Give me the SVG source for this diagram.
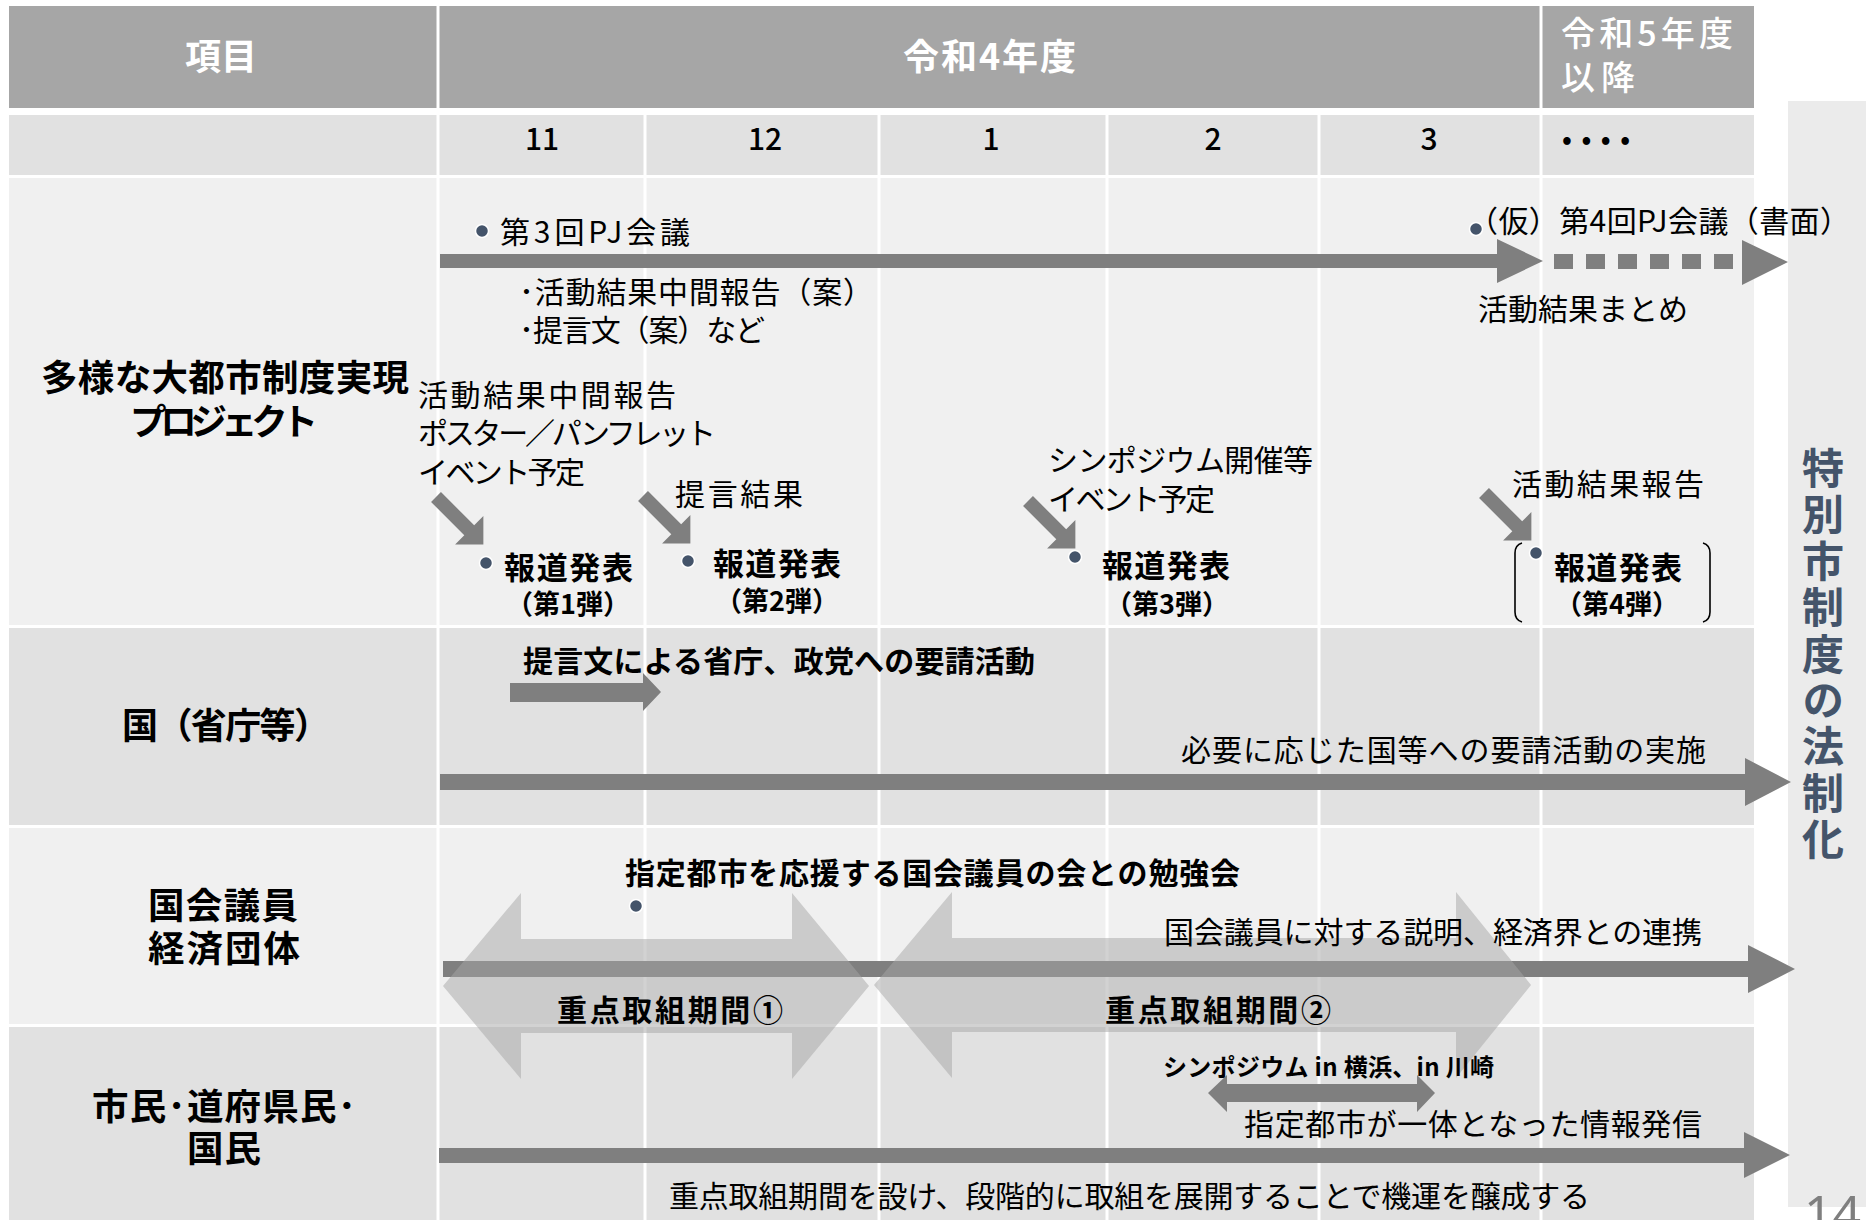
<svg xmlns="http://www.w3.org/2000/svg" width="1866" height="1220" viewBox="0 0 1866 1220" font-size="30">
<style>
.t{font-family:'Noto Sans CJK JP','Noto Sans CJK SC',sans-serif;fill:#000}
.b{font-weight:700}
.hd{fill:#fff;font-weight:700}
.arr{fill:#7f7f7f}
.big{fill:#a6a6a6;fill-opacity:0.5}
.dot{fill:#44546a;stroke:#fff;stroke-width:1.5}
.grid{stroke:#fff;stroke-width:3}
.light{fill:#f0f0f0}
.mid{fill:#e1e1e1}
.brk{fill:none;stroke:#000;stroke-width:1.6}
.vert{writing-mode:vertical-rl;text-orientation:upright;letter-spacing:4.4px}
</style>
<defs>
<path id="diag" d="M0,-7 H47 V-20 L67,0 L47,20 V7 H0 Z"/>
</defs>
<rect width="1866" height="1220" fill="#fff"/>
<g id="table">
<rect x="9" y="6" width="427.5" height="102" fill="#a6a6a6"/>
<rect x="439.5" y="6" width="1100" height="102" fill="#a6a6a6"/>
<rect x="1542.5" y="6" width="211.5" height="102" fill="#a6a6a6"/>
<rect x="9" y="115" width="1745" height="60" class="mid"/>
<rect x="9" y="178" width="1745" height="447" class="light"/>
<rect x="9" y="628" width="1745" height="197" class="mid"/>
<rect x="9" y="828" width="1745" height="196" class="light"/>
<rect x="9" y="1027" width="1745" height="193" class="mid"/>
<g class="grid">
<line x1="438" y1="112" x2="438" y2="1220"/>
<line x1="645" y1="112" x2="645" y2="1220"/>
<line x1="879" y1="112" x2="879" y2="1220"/>
<line x1="1107" y1="112" x2="1107" y2="1220"/>
<line x1="1319" y1="112" x2="1319" y2="1220"/>
<line x1="1541" y1="112" x2="1541" y2="1220"/>
</g>
<text class="t hd" x="221" y="70" font-size="36" text-anchor="middle">項目</text>
<text class="t hd" x="903" y="70" font-size="36" textLength="173" lengthAdjust="spacing">令和4年度</text>
<text class="t" x="1561" y="46" font-size="34" style="fill:#fff;font-weight:500" textLength="172" lengthAdjust="spacing">令和5年度</text>
<text class="t" x="1561" y="90" font-size="34" style="fill:#fff;font-weight:500" textLength="74" lengthAdjust="spacing">以降</text>
<g font-size="30" style="font-weight:500">
<text class="t" x="542" y="150" text-anchor="middle">11</text>
<text class="t" x="765" y="150" text-anchor="middle">12</text>
<text class="t" x="991" y="150" text-anchor="middle">1</text>
<text class="t" x="1213" y="150" text-anchor="middle">2</text>
<text class="t" x="1429" y="150" text-anchor="middle">3</text>
</g>
<text class="t b" x="1562" y="149" font-size="26" textLength="68" lengthAdjust="spacing">••••</text>
</g>
<g id="goal">
<rect x="1788" y="101" width="78" height="1106" fill="#ebebeb"/>
<text class="t b vert" x="1823" y="447" font-size="42" style="fill:#44546a">特別市制度の法制化</text>
<text x="1804" y="1231" font-family="'Noto Sans',sans-serif" font-size="50" fill="#7f7f7f">14</text>
</g>
<g id="row-labels">
<text class="t b" x="41" y="391" font-size="36.5" textLength="368" lengthAdjust="spacing">多様な大都市制度実現</text>
<text class="t b" x="130" y="435" font-size="36.5" textLength="188" lengthAdjust="spacing">プロジェクト</text>
<text class="t b" x="122" y="739" font-size="36" textLength="208" lengthAdjust="spacing">国（省庁等）</text>
<text class="t b" x="148" y="919" font-size="36.5" textLength="150" lengthAdjust="spacing">国会議員</text>
<text class="t b" x="148" y="962" font-size="36.5" textLength="152" lengthAdjust="spacing">経済団体</text>
<text class="t b" x="92" y="1120" font-size="36.5" textLength="264" lengthAdjust="spacing">市民･道府県民･</text>
<text class="t b" x="187" y="1162" font-size="36.5" textLength="74" lengthAdjust="spacing">国民</text>
</g>
<g id="connectors">
<path class="arr" d="M440,254 H1497 V239 L1543,261 L1497,283 V268 H440 Z"/>
<g class="arr">
<rect x="1554" y="254" width="19" height="15"/>
<rect x="1586" y="254" width="19" height="15"/>
<rect x="1618" y="254" width="19" height="15"/>
<rect x="1650" y="254" width="19" height="15"/>
<rect x="1682" y="254" width="19" height="15"/>
<rect x="1714" y="254" width="19" height="15"/>
</g>
<path class="arr" d="M1742,240 L1788,262 L1742,285 Z"/>
<use href="#diag" class="arr" transform="translate(436,497) rotate(45)"/>
<use href="#diag" class="arr" transform="translate(643,496) rotate(45)"/>
<use href="#diag" class="arr" transform="translate(1028,501) rotate(45)"/>
<use href="#diag" class="arr" transform="translate(1484,493) rotate(45)"/>
<path class="arr" d="M510,683 H643 V673 L661,692 L643,711 V702 H510 Z"/>
<path class="arr" d="M440,774 H1745 V758 L1791,782 L1745,806 V790 H440 Z"/>
<path class="arr" d="M443,961 H1748 V945 L1795,969 L1748,993 V977 H443 Z"/>
<path class="arr" d="M439,1148 H1744 V1132 L1790,1155 L1744,1178 V1163 H439 Z"/>
<path class="arr" d="M1208,1093 L1227,1075 V1084 H1417 V1075 L1435,1093 L1417,1112 V1102 H1227 V1112 Z"/>
<path class="big" d="M443,986 L521,893 V939 H792 V893 L869,986 L792,1079 V1033 H521 V1079 Z"/>
<path class="big" d="M874,985 L952,892 V938 H1456 V892 L1531,985 L1456,1078 V1032 H952 V1078 Z"/>
</g>
<g id="project-meetings">
<circle class="dot" cx="482" cy="231" r="6.5"/>
<text class="t" x="500" y="243" textLength="190" lengthAdjust="spacing">第3回PJ会議</text>
<text class="t" x="519" y="303" textLength="354" lengthAdjust="spacing">･活動結果中間報告（案）</text>
<text class="t" x="519" y="341" textLength="246" lengthAdjust="spacing">･提言文（案）など</text>
<circle class="dot" cx="1476" cy="229" r="6.5"/>
<text class="t" x="1468" y="232" textLength="382" lengthAdjust="spacing">（仮）第4回PJ会議（書面）</text>
<text class="t" x="1478" y="320" textLength="210" lengthAdjust="spacing">活動結果まとめ</text>
</g>
<g id="press-1">
<text class="t" x="418" y="406" textLength="258" lengthAdjust="spacing">活動結果中間報告</text>
<text class="t" x="418" y="444" textLength="298" lengthAdjust="spacing">ポスター／パンフレット</text>
<text class="t" x="418" y="483" textLength="167" lengthAdjust="spacing">イベント予定</text>
<circle class="dot" cx="486" cy="563" r="6.5"/>
<text class="t b" x="504" y="579" font-size="31" textLength="129" lengthAdjust="spacing">報道発表</text>
<text class="t b" x="568" y="614" font-size="27" text-anchor="middle">（第1弾）</text>
</g>
<g id="press-2">
<text class="t" x="675" y="505" textLength="128" lengthAdjust="spacing">提言結果</text>
<circle class="dot" cx="688" cy="561" r="6.5"/>
<text class="t b" x="713" y="575" font-size="31" textLength="128" lengthAdjust="spacing">報道発表</text>
<text class="t b" x="777" y="611" font-size="27" text-anchor="middle">（第2弾）</text>
</g>
<g id="press-3">
<text class="t" x="1048" y="471" textLength="265" lengthAdjust="spacing">シンポジウム開催等</text>
<text class="t" x="1048" y="510" textLength="167" lengthAdjust="spacing">イベント予定</text>
<circle class="dot" cx="1075" cy="557" r="6.5"/>
<text class="t b" x="1102" y="577" font-size="31" textLength="128" lengthAdjust="spacing">報道発表</text>
<text class="t b" x="1167" y="614" font-size="27" text-anchor="middle">（第3弾）</text>
</g>
<g id="press-4">
<text class="t" x="1512" y="495" textLength="192" lengthAdjust="spacing">活動結果報告</text>
<path class="brk" d="M1522,543 Q1515,545 1515,553 V612 Q1515,620 1522,622"/>
<path class="brk" d="M1703,543 Q1710,545 1710,553 V612 Q1710,620 1703,622"/>
<circle class="dot" cx="1536" cy="553" r="6.5"/>
<text class="t b" x="1554" y="579" font-size="31" textLength="128" lengthAdjust="spacing">報道発表</text>
<text class="t b" x="1617" y="614" font-size="27" text-anchor="middle">（第4弾）</text>
</g>
<g id="national">
<text class="t b" x="523" y="672" textLength="512" lengthAdjust="spacing">提言文による省庁、政党への要請活動</text>
<text class="t" x="1181" y="761" textLength="525" lengthAdjust="spacing">必要に応じた国等への要請活動の実施</text>
</g>
<g id="diet">
<text class="t b" x="625" y="884" textLength="615" lengthAdjust="spacing">指定都市を応援する国会議員の会との勉強会</text>
<circle class="dot" cx="636" cy="906" r="6.5"/>
<text class="t" x="1164" y="943" textLength="538" lengthAdjust="spacing">国会議員に対する説明、経済界との連携</text>
<text class="t b" x="557" y="1021" textLength="226" lengthAdjust="spacing">重点取組期間①</text>
<text class="t b" x="1105" y="1021" textLength="226" lengthAdjust="spacing">重点取組期間②</text>
</g>
<g id="citizens">
<text class="t b" x="1163" y="1076" font-size="24" textLength="331" lengthAdjust="spacing">シンポジウム in 横浜、in 川崎</text>
<text class="t" x="1244" y="1135" textLength="458" lengthAdjust="spacing">指定都市が一体となった情報発信</text>
<text class="t" x="669" y="1207" textLength="921" lengthAdjust="spacing">重点取組期間を設け、段階的に取組を展開することで機運を醸成する</text>
</g>
</svg>
